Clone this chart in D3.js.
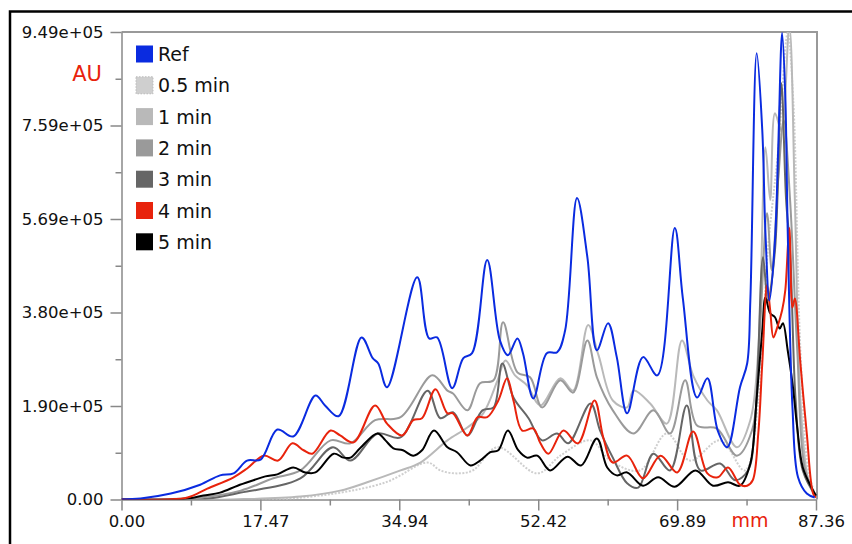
<!DOCTYPE html>
<html>
<head>
<meta charset="utf-8">
<script src="https://cdn.jsdelivr.net/npm/d3@7"></script>
<style>
  body { margin: 0; background: #fff; }
  svg { display: block; }
</style>
</head>
<body>
<script>
// ---- data -------------------------------------------------------------
const seriesNames  = ["Ref", "0.5 min", "1 min", "2 min", "3 min", "4 min", "5 min"];
const seriesColors = ["#0a2be0", "#cfcfcf", "#b9b9b9", "#9a9a9a", "#666666", "#e8230c", "#000000"];

const xTickValues = [0, 17.47, 34.94, 52.42, 69.89, 87.36];
const xTickLabels = ["0.00", "17.47", "34.94", "52.42", "69.89", "87.36"];
const yTickValues = [0, 189800, 379600, 569400, 759200, 949000];
const yTickLabels = ["0.00", "1.90e+05", "3.80e+05", "5.69e+05", "7.59e+05", "9.49e+05"];

// profiles: [position (mm), intensity (AU)]
const ref = [[0,0],[2.4,2e3],[6.2,12e3],[9.9,30e3],[12.4,49e3],[14.1,53e3],[15.8,79e3],[17.5,81e3],
  [19.6,142e3],[21.6,128e3],[24.4,211e3],[25.6,191e3],[27.3,169e3],[30.2,329e3],[31.6,287e3],
  [32.3,276e3],[33.4,228e3],[37.2,451e3],[38.7,327e3],[39.7,329e3],[41.6,226e3],[43.0,287e3],
  [44.1,297e3],[46.0,486e3],[47.6,323e3],[48.6,293e3],[49.8,327e3],[50.5,297e3],[51.8,205e3],
  [53.5,297e3],[54.8,299e3],[55.8,343e3],[57.3,612e3],[58.6,492e3],[59.8,303e3],[61.2,358e3],
  [62.3,289e3],[63.6,175e3],[65.6,289e3],[67.4,252e3],[69.6,551e3],[70.6,410e3],[72.4,207e3],
  [73.7,246e3],[75.0,140e3],[76.2,106e3],[77.8,228e3],[78.7,276e3],[79.1,404e3],[79.9,906e3],
  [80.6,750e3],[81.0,541e3],[81.5,404e3],[82.2,526e3],[82.6,709e3],[83.1,947e3],[83.5,817e3],
  [83.8,547e3],[84.4,187e3],[85.1,45e3],[86.2,12e3],[87.2,4e3]];

const min05 = [[0,0],[20.0,0],[32.9,33e3],[38.5,75e3],[40.1,59e3],[42.2,53e3],[44.2,59e3],
  [47.3,106e3],[52.3,53e3],[55.2,89e3],[59.0,120e3],[61.5,79e3],[65.2,59e3],[68.6,134e3],
  [71.5,79e3],[75.3,120e3],[78.4,59e3],[80.1,201e3],[81.3,506e3],[82.6,709e3],[83.8,947e3],
  [84.5,811e3],[85.4,303e3],[86.4,59e3],[87.36,4e3]];

const min1 = [[0,0],[13.7,0],[22.5,6e3],[27.5,18e3],[30.9,35e3],[35.1,59e3],[37.6,75e3],
  [41.0,120e3],[43.5,146e3],[45.5,175e3],[47.3,242e3],[48.3,282e3],[49.5,252e3],[51.0,232e3],
  [52.7,191e3],[55.2,246e3],[56.8,221e3],[58.7,354e3],[60.0,293e3],[61.8,201e3],[63.6,187e3],
  [64.4,221e3],[66.5,195e3],[68.6,154e3],[70.5,323e3],[71.9,252e3],[73.7,201e3],[74.9,181e3],
  [77.4,106e3],[79.1,161e3],[80.1,303e3],[81.0,715e3],[81.6,608e3],[82.2,784e3],[83.0,750e3],
  [84.0,960e3],[84.7,608e3],[85.4,201e3],[86.4,39e3],[87.36,8e3]];

const min2 = [[0,0],[9.9,4e3],[15.0,18e3],[19.1,43e3],[22.5,59e3],[26.3,120e3],[28.8,114e3],
  [31.9,161e3],[35.1,167e3],[39.1,252e3],[41.0,221e3],[41.7,215e3],[43.5,181e3],[45.1,236e3],
  [46.8,242e3],[48.0,360e3],[49.8,258e3],[51.4,248e3],[52.9,187e3],[55.2,242e3],[56.8,217e3],
  [58.6,323e3],[59.8,248e3],[61.8,181e3],[64.4,134e3],[66.9,181e3],[69.0,134e3],[70.9,242e3],
  [72.4,150e3],[74.9,144e3],[77.4,89e3],[79.3,140e3],[80.3,343e3],[81.2,581e3],[81.8,465e3],
  [82.6,648e3],[83.3,770e3],[84.1,608e3],[85.0,303e3],[86.0,59e3],[87.36,8e3]];

const min3 = [[0,0],[9.9,0],[15.0,14e3],[22.5,43e3],[26.6,106e3],[28.8,79e3],[32.2,134e3],
  [35.1,126e3],[38.5,221e3],[40.1,165e3],[41.7,177e3],[43.5,130e3],[45.4,181e3],[46.8,187e3],
  [47.9,276e3],[49.3,207e3],[51.2,165e3],[52.9,120e3],[54.8,134e3],[56.2,114e3],[59.0,195e3],
  [60.2,140e3],[61.8,85e3],[63.6,33e3],[65.0,24e3],[66.9,93e3],[69.0,59e3],[71.1,191e3],
  [72.8,59e3],[75.3,73e3],[77.2,39e3],[78.8,59e3],[79.7,161e3],[80.7,492e3],[81.3,404e3],
  [82.2,506e3],[83.0,845e3],[83.6,608e3],[84.1,506e3],[84.8,201e3],[85.7,59e3],[87.36,6e3]];

const min4 = [[0,0],[5.6,0],[8.3,4e3],[10.8,22e3],[14.1,45e3],[15.8,63e3],[17.9,89e3],
  [19.7,79e3],[21.5,114e3],[22.9,100e3],[24.0,93e3],[26.3,140e3],[27.5,130e3],[29.2,116e3],
  [31.9,191e3],[33.4,154e3],[35.3,130e3],[36.7,161e3],[37.8,165e3],[39.5,224e3],[41.0,175e3],
  [41.7,175e3],[43.5,130e3],[44.8,167e3],[46.0,167e3],[47.4,201e3],[48.5,246e3],[49.3,201e3],
  [50.4,140e3],[51.8,144e3],[52.7,114e3],[53.7,93e3],[55.6,140e3],[57.4,114e3],[59.5,201e3],
  [60.6,126e3],[61.8,75e3],[63.6,89e3],[65.6,43e3],[67.8,89e3],[69.9,55e3],[71.9,138e3],
  [73.7,53e3],[75.0,45e3],[76.3,65e3],[77.8,30e3],[78.7,28e3],[79.4,39e3],[80.1,134e3],
  [80.6,276e3],[81.2,435e3],[81.6,384e3],[82.0,329e3],[82.5,350e3],[83.1,384e3],[83.5,425e3],
  [84.0,551e3],[84.4,390e3],[84.7,408e3],[85.4,276e3],[86.2,134e3],[87.0,12e3],[87.36,4e3]];

const min5 = [[0,0],[6.8,0],[8.3,2e3],[10.3,8e3],[12.4,14e3],[14.6,28e3],[16.6,39e3],[18.1,47e3],
  [19.6,51e3],[21.6,65e3],[23.1,55e3],[24.4,55e3],[26.7,93e3],[27.9,85e3],[28.8,85e3],
  [30.0,104e3],[32.2,134e3],[33.2,120e3],[34.2,104e3],[35.4,100e3],[36.7,89e3],[37.8,100e3],
  [39.3,140e3],[41.0,106e3],[42.2,96e3],[43.9,69e3],[45.1,79e3],[46.4,96e3],[47.4,100e3],
  [48.6,140e3],[49.9,100e3],[51.0,85e3],[52.3,89e3],[53.9,59e3],[56.1,87e3],[57.8,69e3],
  [59.8,124e3],[61.1,65e3],[62.3,49e3],[63.6,55e3],[65.6,28e3],[67.5,45e3],[69.6,26e3],
  [72.2,59e3],[74.4,28e3],[76.3,35e3],[77.8,28e3],[79.1,73e3],[79.9,207e3],[80.6,343e3],
  [81.0,410e3],[81.6,378e3],[82.2,370e3],[82.8,347e3],[83.2,358e3],[83.8,303e3],[84.4,236e3],
  [85.0,146e3],[85.7,65e3],[87.0,18e3],[87.36,8e3]];

const seriesValues = [ref, min05, min1, min2, min3, min4, min5];

// ---- layout -----------------------------------------------------------
const W = 852, H = 544;
const plot = { left: 121.5, right: 816, top: 32, bottom: 499.5 };
const font = "'DejaVu Sans', sans-serif";

const svg = d3.select("body").append("svg")
  .attr("width", W).attr("height", H)
  .style("font-family", font);

const x = d3.scaleLinear().domain([0, 87.36]).range([plot.left, plot.right]);
const y = d3.scaleLinear().domain([0, 949000]).range([plot.bottom, plot.top]);

// outer frame (top and left edges)
svg.append("path")
  .attr("d", `M10,${H} V11.5 H${W}`)
  .attr("fill", "none").attr("stroke", "#000").attr("stroke-width", 2.5);

// plot box top/right edges
svg.append("path")
  .attr("d", `M${plot.left},${plot.top} H${plot.right + 1} V${plot.bottom}`)
  .attr("fill", "none").attr("stroke", "#999").attr("stroke-width", 2);

// clip for profiles
svg.append("defs").append("clipPath").attr("id", "plotclip")
  .append("rect")
  .attr("x", plot.left).attr("y", plot.top)
  .attr("width", plot.right - plot.left + 1).attr("height", plot.bottom - plot.top);

// minor ticks halfway between labelled ticks
const mid = v => v.slice(1).map((d, i) => (d + v[i]) / 2);

const yAxis = svg.append("g").attr("transform", `translate(${plot.left},0)`)
  .call(d3.axisLeft(y).tickValues(yTickValues).tickFormat((d, i) => yTickLabels[i])
    .tickSize(11).tickPadding(7).tickSizeOuter(0));
svg.append("g").attr("transform", `translate(${plot.left},0)`)
  .call(d3.axisLeft(y).tickValues(mid(yTickValues)).tickFormat("").tickSize(6).tickSizeOuter(0))
  .call(g => g.select(".domain").remove());

const xAxis = svg.append("g").attr("transform", `translate(0,${plot.bottom})`)
  .call(d3.axisBottom(x).tickValues(xTickValues).tickFormat((d, i) => xTickLabels[i])
    .tickSize(11).tickPadding(5).tickSizeOuter(0));
svg.append("g").attr("transform", `translate(0,${plot.bottom})`)
  .call(d3.axisBottom(x).tickValues(mid(xTickValues)).tickFormat("").tickSize(6).tickSizeOuter(0))
  .call(g => g.select(".domain").remove());

svg.selectAll(".domain, .tick line").attr("stroke", "#888").attr("stroke-width", 1.5);
svg.selectAll(".tick text").attr("fill", "#111").style("font-size", "16.5px").style("font-family", font);
xAxis.selectAll(".tick text").attr("dx", 5);

// axis unit labels
svg.append("text").attr("x", 102).attr("y", 74).attr("text-anchor", "end")
  .attr("dominant-baseline", "central").attr("fill", "#e8230c")
  .style("font-size", "21px").text("AU");
svg.append("text").attr("x", 750).attr("y", 527).attr("text-anchor", "middle")
  .attr("fill", "#e8230c").style("font-size", "19px").text("mm");

// profiles
const line = d3.line().x(d => x(d[0])).y(d => y(d[1])).curve(d3.curveCatmullRom.alpha(0.5));
const drawOrder = [1, 2, 3, 4, 6, 5, 0];
const lines = svg.append("g").attr("clip-path", "url(#plotclip)");
drawOrder.forEach(i => {
  lines.append("path")
    .datum(seriesValues[i])
    .attr("d", line)
    .attr("fill", "none")
    .attr("stroke", seriesColors[i])
    .attr("stroke-width", 2)
    .attr("stroke-linejoin", "round")
    .attr("stroke-dasharray", i === 1 ? "2,1.5" : null);
});

// legend
const legend = svg.append("g").attr("transform", "translate(136,54)");
seriesNames.forEach((name, i) => {
  const row = legend.append("g").attr("transform", `translate(0,${i * 31.3})`);
  row.append("rect").attr("x", 0).attr("y", -8.5).attr("width", 17).attr("height", 17)
    .attr("fill", seriesColors[i])
    .attr("stroke", i === 1 ? "#bbb" : "none")
    .attr("stroke-dasharray", i === 1 ? "1.5,1.5" : null);
  row.append("text").attr("x", 22).attr("y", 0).attr("dominant-baseline", "central")
    .attr("fill", "#111").style("font-size", "19px").text(name);
});
</script>
</body>
</html>
